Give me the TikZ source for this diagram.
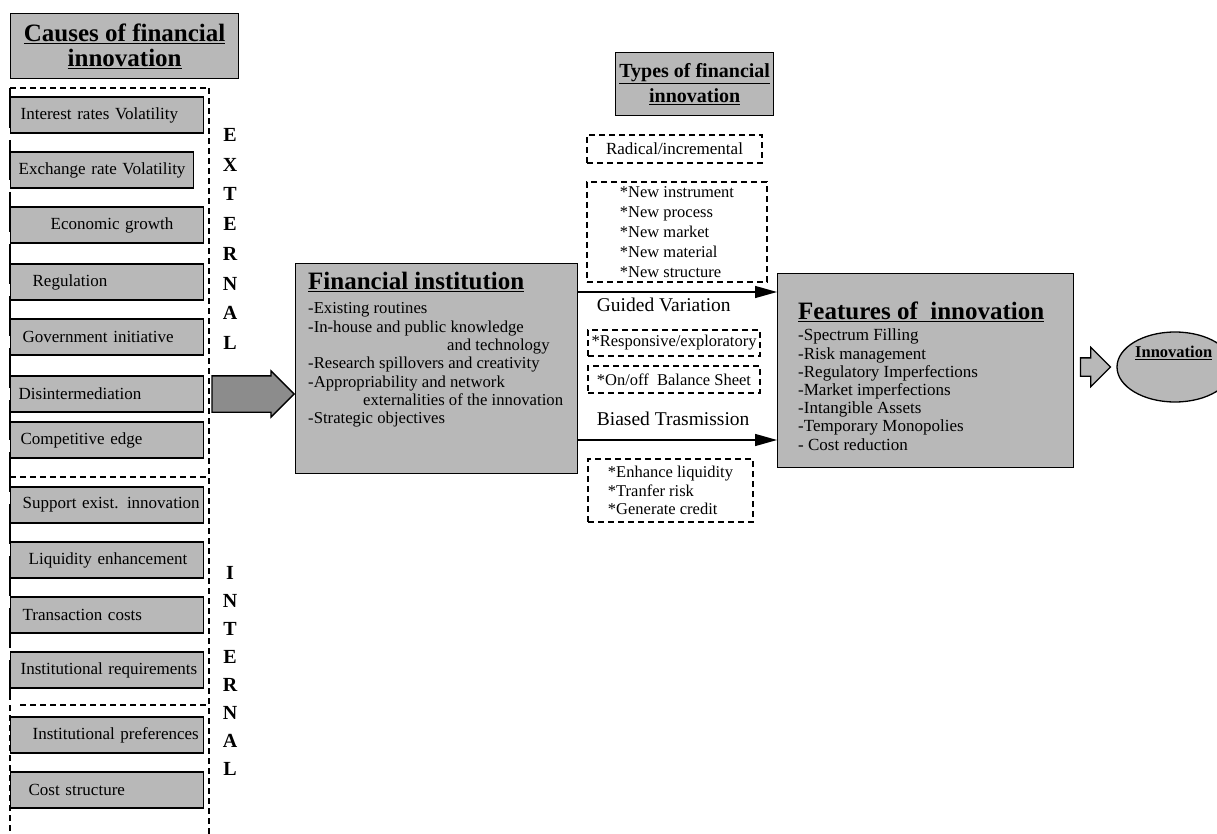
\documentclass[tikz,border=0pt]{standalone}
\usepackage{fontspec}
\setmainfont{Liberation Serif}
\usepackage{tikz}
\usetikzlibrary{arrows.meta,shapes,positioning}
\definecolor{boxgray}{gray}{0.72}
\definecolor{arrowgray}{gray}{0.55}

\begin{document}
\begin{tikzpicture}[x=1pt,y=-1pt]
\tikzstyle{every node}=[font=\fontsize{16}{18}\selectfont, inner sep=0pt]
\tikzstyle{cause}=[draw, fill=boxgray, line width=1.3pt, minimum width=193pt, minimum height=36pt, text width=187pt, inner xsep=3pt, align=left, anchor=west, font=\fontsize{17}{19}\selectfont]
\tikzstyle{head}=[draw, fill=boxgray, line width=1.3pt, align=center, anchor=north west, font=\bfseries\fontsize{25}{25}\selectfont]
\tikzstyle{bigbox}=[draw, fill=boxgray, line width=1.3pt, anchor=north west]
\tikzstyle{dline}=[line width=1.2pt, dash pattern=on 6pt off 4pt]
\tikzstyle{dbox}=[draw, dline, align=left, font=\fontsize{16.5}{20}\selectfont]
\tikzstyle{letters}=[align=center, font=\bfseries\fontsize{20}{29.7}\selectfont]
\tikzstyle{flow}=[line width=1.4pt, -{Triangle[length=22pt,width=12pt]}]
\tikzstyle{blockarrow}=[single arrow, draw, line width=1.3pt, single arrow head indent=0pt, inner xsep=0pt, anchor=tip]
\useasboundingbox (0,0) rectangle (1217,834);
\clip (0,0) rectangle (1217,834);

% dashed frames of the causes
\draw[dline] (10,88) -- (209,88);
\draw[dline] (209,88) -- (209,834);
\draw[line width=1.3pt, dash pattern=on 40pt off 12pt] (10,88) -- (10,705);
\draw[dline] (10,705) -- (10,834);
\draw[dline] (10,477) -- (208,477);
\draw[dline] (20,705) -- (208,705);

% causes
\node[head, minimum width=228pt, minimum height=65pt] (causes) at (10,13) {\underline{Causes of financial}\\\underline{innovation}};
\node[cause, minimum width=190pt] (c1) at (10,115) {\hspace*{7pt}Interest rates Volatility};
\node[cause, minimum width=183pt, text width=177pt] (c2) at (10,170) {\hspace*{5pt}Exchange rate Volatility};
\node[cause] (c3) at (10,225) {\hspace*{37pt}Economic growth};
\node[cause] (c4) at (10,282) {\hspace*{19pt}Regulation};
\node[cause] (c5) at (10,337) {\hspace*{9pt}Government initiative};
\node[cause] (c6) at (10,394) {\hspace*{5pt}Disintermediation};
\node[cause] (c7) at (10,440) {\hspace*{7pt}Competitive edge};
\node[cause, minimum width=190pt] (c8) at (10,505) {\hspace*{9pt}Support exist. innovation};
\node[cause] (c9) at (10,560) {\hspace*{15pt}Liquidity enhancement};
\node[cause] (c10) at (10,615) {\hspace*{9pt}Transaction costs};
\node[cause] (c11) at (10,670) {\hspace*{7pt}Institutional requirements};
\node[cause] (c12) at (10,735) {\hspace*{19pt}Institutional preferences};
\node[cause] (c13) at (10,790) {\hspace*{15pt}Cost structure};

\node[letters] (ext) at (230,239) {E\\X\\T\\E\\R\\N\\A\\L};
\node[letters, font=\bfseries\fontsize{20}{28.1}\selectfont] (int) at (230,671) {I\\N\\T\\E\\R\\N\\A\\L};

% financial institution
\node[bigbox, minimum width=282pt, minimum height=210pt] (fin) at (295,263) {};
\node[anchor=north west, align=left, font=\fontsize{16.7}{18.3}\selectfont] (finTxt) at ([xshift=13pt,yshift=-9pt]fin.north west)
  {{\bfseries\fontsize{25}{27}\selectfont\underline{Financial institution}}\\[6pt]
   -Existing routines\\
   -In-house and public knowledge\\
   \hspace*{139pt}and technology\\
   -Research spillovers and creativity\\
   -Appropriability and network\\
   \hspace*{55pt}externalities of the innovation\\
   -Strategic objectives};

\node[blockarrow, fill=arrowgray, minimum height=82pt, minimum width=45pt, inner ysep=17.5pt,
  single arrow head extend=5pt] (bigArr) at (fin.west |- c6.east) {};

% types
\node[head, minimum width=158pt, minimum height=63pt, font=\bfseries\fontsize{20}{25}\selectfont] (types) at (615,52) {\underline{Types of financial}\\\underline{innovation}};
\node[dbox, minimum width=175pt, minimum height=28pt, font=\fontsize{17}{20}\selectfont] (radical) at (674.5,149) {Radical/incremental};
\node[dbox, minimum width=180pt, minimum height=100pt] (newinst) at (677,232) {*New instrument\\*New process\\*New market\\*New material\\*New structure};
\node[dbox, minimum width=172pt, minimum height=26pt] (respons) at (674,343) {*Responsive/exploratory};
\node[dbox, minimum width=172pt, minimum height=27pt] (onoff) at (674,379.5) {*On/off~ Balance Sheet};
\node[dbox, minimum width=165pt, minimum height=63pt, font=\fontsize{16.5}{18.5}\selectfont] (enhance) at (670.5,490.5) {*Enhance liquidity\\*Tranfer risk\\*Generate credit};

% features
\node[bigbox, minimum width=296pt, minimum height=194pt] (feat) at (777,273) {};
\node[anchor=north west, align=left, font=\fontsize{17}{18.2}\selectfont] (featTxt) at ([xshift=21pt,yshift=-29pt]feat.north west)
  {{\bfseries\fontsize{25}{27}\selectfont\underline{Features of~ innovation}}\\[2.8pt]
   -Spectrum Filling\\
   -Risk management\\
   -Regulatory Imperfections\\
   -Market imperfections\\
   -Intangible Assets\\
   -Temporary Monopolies\\
   - Cost reduction};

\coordinate (gv) at (0,292);
\coordinate (bt) at (0,440);
\draw[flow] (fin.east |- gv) -- (feat.west |- gv)
  node[pos=0.09, below right, yshift=-5pt, font=\fontsize{19.5}{22}\selectfont] (gvTxt) {Guided Variation};
\draw[flow] (fin.east |- bt) -- (feat.west |- bt)
  node[pos=0.09, above right, yshift=14pt, font=\fontsize{19.5}{22}\selectfont] (btTxt) {Biased Trasmission};

% innovation
\node[ellipse, draw, fill=boxgray, line width=1.3pt, minimum width=116pt, minimum height=70pt] (inno) at (1175,367) {};
\node[anchor=west, font=\bfseries\fontsize{16.5}{18}\selectfont] (innoTxt) at (1135,353) {\underline{Innovation}};
\node[blockarrow, fill=boxgray, minimum height=30pt, minimum width=38pt, inner ysep=8.5pt,
  single arrow head extend=10.5pt] (smallArr) at ([xshift=-5pt]inno.west) {};
\end{tikzpicture}
\end{document}
